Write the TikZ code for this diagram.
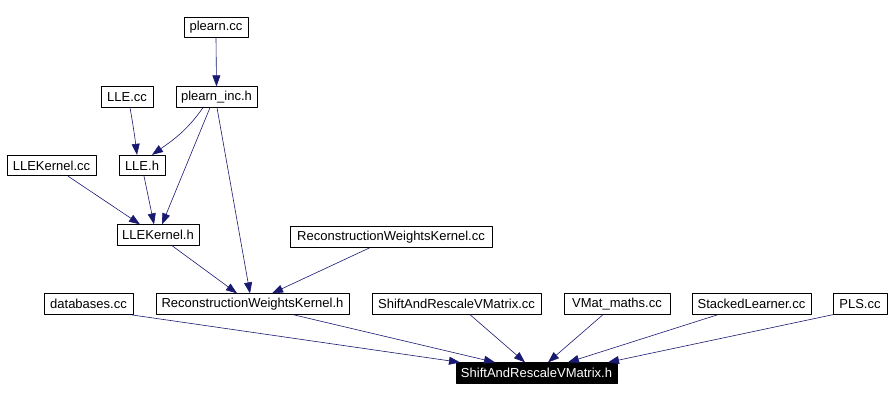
\documentclass[tikz,border=0pt]{standalone}
\usepackage{fontspec}
\setmainfont{Liberation Sans}
\usetikzlibrary{arrows.meta}
\definecolor{depblue}{RGB}{25,25,112}
\begin{document}
\begin{tikzpicture}[x=1pt,y=-1pt,line join=round,>={Triangle[length=11pt,width=8pt]},font=\fontsize{13}{15}\selectfont]
	\tikzset{file/.style={draw,line width=0.8pt,minimum height=20.5pt,inner sep=0pt},
		dep/.style={->,draw=depblue,line width=0.6pt}}
	\useasboundingbox (0,0) rectangle (892,401);
	% files that include the header
	\foreach \n/\x/\y/\w/\t in {plcc/216/27.5/64/plearn.cc,plinc/216.5/97/81/plearn\_inc.h,llecc/127/97/52/LLE.cc,
		lleh/142/165.5/46/LLE.h,llekcc/51.5/165.5/89/LLEKernel.cc,llekh/158/235/82/LLEKernel.h,
		rwkcc/391/237/202/ReconstructionWeightsKernel.cc,dbcc/88.5/304/89/databases.cc,
		rwkh/252.5/304/193/ReconstructionWeightsKernel.h,srvcc/456.5/304/169/ShiftAndRescaleVMatrix.cc,
		vmcc/617/304/106/VMat\_maths.cc,slcc/751.5/304/119/StackedLearner.cc,plscc/860/304/54/PLS.cc}
		\node[file,minimum width=\w pt] (\n) at (\x,\y) {\t};
	\node[file,fill=black,text=white,minimum width=161pt] (srvh) at (536.5,373) {ShiftAndRescaleVMatrix.h};
	% include edges
	\draw[dep] (plcc.south) -- (plinc.north);
	\draw[dep] ([xshift=3pt]llecc.south) to[out=-80,in=97] ([xshift=-5pt]lleh.north);
	\draw[dep] ([xshift=-13.5pt]plinc.south) to[out=-125,in=35] ([xshift=10pt]lleh.north);
	\draw[dep] ([xshift=-6.5pt]plinc.south) -- ([xshift=4pt]llekh.north);
	\draw[dep] ([xshift=0.5pt]plinc.south) -- ([xshift=-2.5pt]rwkh.north);
	\draw[dep] ([xshift=16.5pt]llekcc.south) -- ([xshift=-18pt]llekh.north);
	\draw[dep] ([xshift=2pt]lleh.south) -- ([xshift=-4pt]llekh.north);
	\draw[dep] ([xshift=14pt]llekh.south) -- ([xshift=-15.5pt]rwkh.north);
	\draw[dep] ([xshift=-21pt]rwkcc.south) -- ([xshift=19.5pt]rwkh.north);
	\foreach \s/\a/\b in {dbcc/41.5/-76.5,rwkh/40.5/-41.5,srvcc/13.5/-11.5,vmcc/-14/11.5,slcc/-33.5/31.5,plscc/-27/71.5}
		\draw[dep] ([xshift=\a pt]\s.south) -- ([xshift=\b pt]srvh.north);
\end{tikzpicture}
\end{document}
